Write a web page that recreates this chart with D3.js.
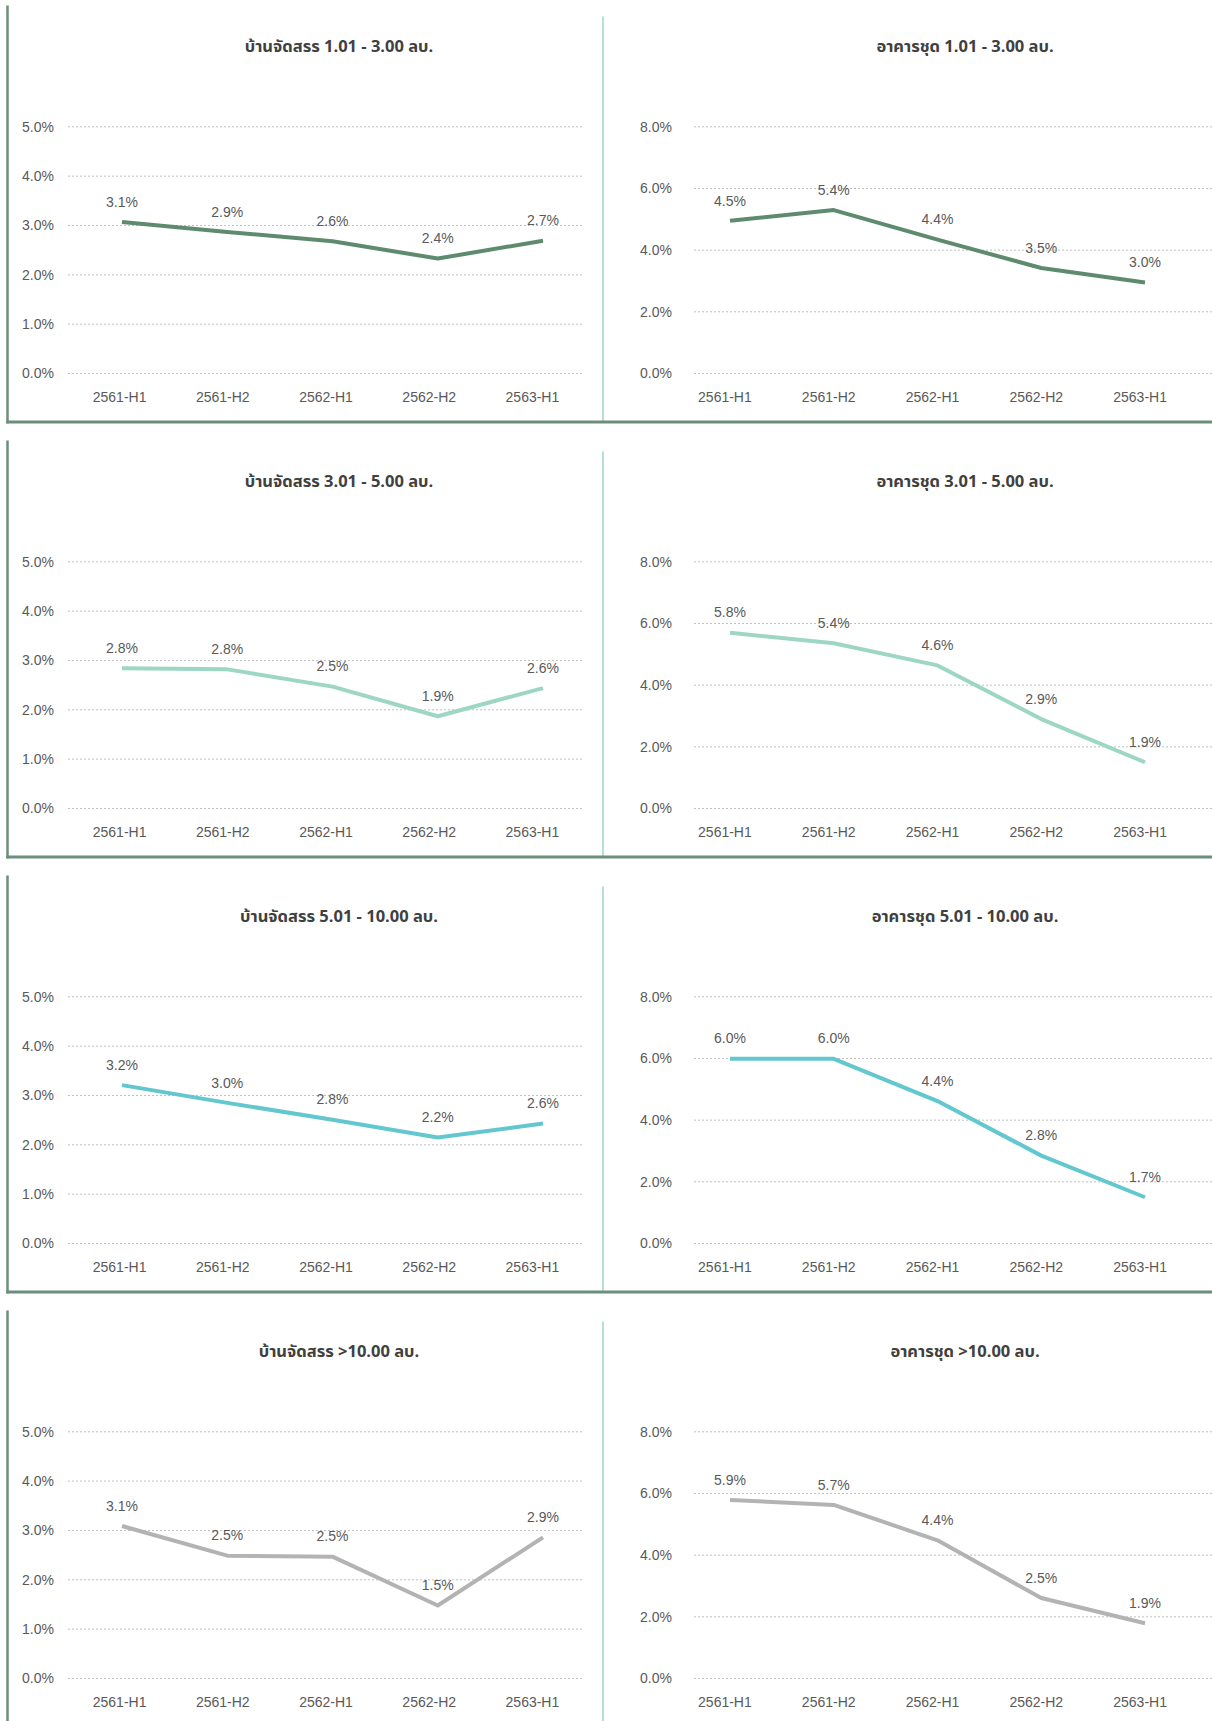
<!DOCTYPE html>
<html>
<head>
<meta charset="utf-8">
<script src="https://cdn.jsdelivr.net/npm/d3@7"></script>
<style>
  body { margin: 0; background: #fff; }
  svg { display: block; }
  .tick-label { font-family: 'Liberation Sans', Arial, sans-serif; font-size: 14px; fill: #595959; }
  .value-label { font-family: 'Liberation Sans', Arial, sans-serif; font-size: 14px; fill: #595959; }
  .title { font-family: 'Noto Sans Thai', 'Noto Sans', 'DejaVu Sans', sans-serif; font-size: 16.5px; font-weight: bold; fill: #404040; }
</style>
</head>
<body>
<div id="root"></div>
<script>
const periods = ['2561-H1', '2561-H2', '2562-H1', '2562-H2', '2563-H1'];

const houseTitles = [
  'บ้านจัดสรร 1.01 - 3.00 ลบ.',
  'บ้านจัดสรร 3.01 - 5.00 ลบ.',
  'บ้านจัดสรร 5.01 - 10.00 ลบ.',
  'บ้านจัดสรร >10.00 ลบ.',
];
const condoTitles = [
  'อาคารชุด 1.01 - 3.00 ลบ.',
  'อาคารชุด 3.01 - 5.00 ลบ.',
  'อาคารชุด 5.01 - 10.00 ลบ.',
  'อาคารชุด >10.00 ลบ.',
];

// plotted values (%)
const houseValues = [
  [3.07, 2.87, 2.68, 2.33, 2.69],
  [2.84, 2.82, 2.47, 1.87, 2.44],
  [3.21, 2.85, 2.51, 2.15, 2.43],
  [3.09, 2.49, 2.47, 1.48, 2.86],
];
const condoValues = [
  [4.95, 5.30, 4.34, 3.42, 2.95],
  [5.70, 5.36, 4.64, 2.90, 1.50],
  [5.99, 5.99, 4.62, 2.85, 1.50],
  [5.79, 5.63, 4.48, 2.61, 1.79],
];

// data label texts as printed on the chart
const houseLabels = [
  ['3.1%', '2.9%', '2.6%', '2.4%', '2.7%'],
  ['2.8%', '2.8%', '2.5%', '1.9%', '2.6%'],
  ['3.2%', '3.0%', '2.8%', '2.2%', '2.6%'],
  ['3.1%', '2.5%', '2.5%', '1.5%', '2.9%'],
];
const condoLabels = [
  ['4.5%', '5.4%', '4.4%', '3.5%', '3.0%'],
  ['5.8%', '5.4%', '4.6%', '2.9%', '1.9%'],
  ['6.0%', '6.0%', '4.4%', '2.8%', '1.7%'],
  ['5.9%', '5.7%', '4.4%', '2.5%', '1.9%'],
];

const houseTicks = [0, 1, 2, 3, 4, 5];
const condoTicks = [0, 2, 4, 6, 8];

const lineColors = ['#5e8b6e', '#9dd7c3', '#62c7ce', '#b3b3b3'];

const width = 1212;
const height = 1721;
const rowPitch = 435;
const firstZero = 373.5;
const plotHeight = 246.7;
const borderColor = '#6b8f7a';
const dividerColor = '#b6e0d6';

const columns = [
  { titles: houseTitles, values: houseValues, labels: houseLabels, ticks: houseTicks, max: 5,
    labelRight: 54, gridX: [68, 582], catX: [68, 584], lineX: [122, 543], titleX: 339 },
  { titles: condoTitles, values: condoValues, labels: condoLabels, ticks: condoTicks, max: 8,
    labelRight: 672, gridX: [694, 1212], catX: [673, 1192], lineX: [730, 1145], titleX: 965 },
];

const svg = d3.select('#root').append('svg')
  .attr('width', width)
  .attr('height', height);

d3.range(4).forEach(row => {
  const zero = firstZero + row * rowPitch;
  const bottom = zero + 48.5;

  // panel frame: left border, bottom border, column divider
  svg.append('line')
    .attr('x1', 7.5).attr('x2', 7.5)
    .attr('y1', zero - 368).attr('y2', bottom + 1.5)
    .attr('stroke', borderColor).attr('stroke-width', 2.5);

  svg.append('line')
    .attr('x1', 603).attr('x2', 603)
    .attr('y1', zero - 357).attr('y2', bottom)
    .attr('stroke', dividerColor).attr('stroke-width', 2);

  svg.append('line')
    .attr('x1', 6.25).attr('x2', width)
    .attr('y1', bottom).attr('y2', bottom)
    .attr('stroke', borderColor).attr('stroke-width', 3);

  columns.forEach(col => {
    const g = svg.append('g');

    const x = d3.scaleBand()
      .domain(periods)
      .range(col.catX);

    const xLine = d3.scalePoint()
      .domain(periods)
      .range(col.lineX);

    const y = d3.scaleLinear()
      .domain([0, col.max])
      .range([zero, zero - plotHeight]);

    g.append('text')
      .attr('class', 'title')
      .attr('x', col.titleX)
      .attr('y', zero - 326.5)
      .attr('text-anchor', 'middle')
      .attr('dominant-baseline', 'middle')
      .text(col.titles[row]);

    // dotted gridlines
    g.selectAll('.grid')
      .data(col.ticks)
      .enter()
      .append('line')
      .attr('class', 'grid')
      .attr('x1', col.gridX[0])
      .attr('x2', col.gridX[1])
      .attr('y1', d => y(d))
      .attr('y2', d => y(d))
      .attr('stroke', '#bfbfbf')
      .attr('stroke-width', 1)
      .attr('stroke-dasharray', '2,2');

    const yAxis = d3.axisLeft(y)
      .tickValues(col.ticks)
      .tickFormat(d => d3.format('.1f')(d) + '%')
      .tickSize(0)
      .tickPadding(0);

    const yg = g.append('g')
      .attr('transform', `translate(${col.labelRight}, 0)`)
      .call(yAxis);
    yg.select('.domain').remove();
    yg.selectAll('text').attr('class', 'tick-label').attr('font-family', null).attr('font-size', null);

    const xAxis = d3.axisBottom(x)
      .tickSize(0)
      .tickPadding(0);

    const xg = g.append('g')
      .attr('transform', `translate(0, ${zero + 23.6})`)
      .call(xAxis);
    xg.select('.domain').remove();
    xg.selectAll('text')
      .attr('class', 'tick-label')
      .attr('font-family', null).attr('font-size', null)
      .attr('dy', '0.35em');

    const pts = periods.map((p, i) => ({ p, v: col.values[row][i], label: col.labels[row][i] }));

    const line = d3.line()
      .x(d => xLine(d.p))
      .y(d => y(d.v));

    g.append('path')
      .datum(pts)
      .attr('d', line)
      .attr('fill', 'none')
      .attr('stroke', lineColors[row])
      .attr('stroke-width', 4)
      .attr('stroke-linejoin', 'round');

    g.selectAll('.value-label')
      .data(pts)
      .enter()
      .append('text')
      .attr('class', 'value-label')
      .attr('x', d => xLine(d.p))
      .attr('y', d => y(d.v) - 19)
      .attr('text-anchor', 'middle')
      .attr('dominant-baseline', 'middle')
      .text(d => d.label);
  });
});
</script>
</body>
</html>
